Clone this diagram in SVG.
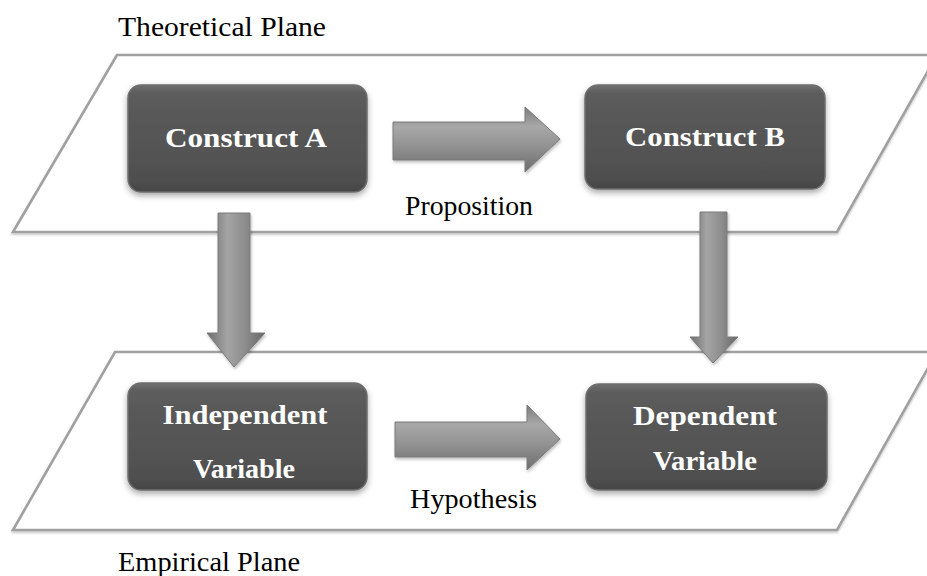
<svg xmlns="http://www.w3.org/2000/svg" width="927" height="576" viewBox="0 0 927 576">
<style>
.plane{fill:#fff;stroke:#a0a0a0;stroke-width:2.6}
.box{fill:url(#boxg);stroke:#6e6e6e;stroke-width:1.5}
.bt{font-family:"Liberation Serif","Times New Roman",serif;font-weight:bold;font-size:28px;fill:#fff;text-anchor:middle}
.lab{font-family:"Liberation Serif","Times New Roman",serif;font-size:28px;fill:#000}
.arr{stroke:#7a7a7a;stroke-width:1}
</style>
<defs>
<linearGradient id="boxg" x1="0" y1="0" x2="0" y2="1">
<stop offset="0" stop-color="#707070"/>
<stop offset="0.08" stop-color="#5c5c5c"/>
<stop offset="0.9" stop-color="#4f4f4f"/>
<stop offset="1" stop-color="#444"/>
</linearGradient>
<linearGradient id="hg" x1="0" y1="0" x2="0" y2="1">
<stop offset="0" stop-color="#7c7c7c"/>
<stop offset="0.3" stop-color="#a8a8a8"/>
<stop offset="0.6" stop-color="#929292"/>
<stop offset="1" stop-color="#6e6e6e"/>
</linearGradient>
<linearGradient id="vg" x1="0" y1="0" x2="1" y2="0">
<stop offset="0" stop-color="#6e6e6e"/>
<stop offset="0.35" stop-color="#a4a4a4"/>
<stop offset="0.65" stop-color="#8e8e8e"/>
<stop offset="1" stop-color="#666"/>
</linearGradient>
<filter id="sh" x="-10%" y="-10%" width="120%" height="130%">
<feDropShadow dx="0" dy="3" stdDeviation="3" flood-color="#000" flood-opacity="0.35"/>
</filter>
<filter id="ash" x="-10%" y="-10%" width="130%" height="130%">
<feDropShadow dx="1" dy="2" stdDeviation="1.5" flood-color="#000" flood-opacity="0.25"/>
</filter>
<filter id="psh" x="-5%" y="-5%" width="110%" height="115%">
<feDropShadow dx="0" dy="1.5" stdDeviation="1" flood-color="#000" flood-opacity="0.25"/>
</filter>
</defs>

<g id="theoretical-plane">
<polygon class="plane" filter="url(#psh)" points="117,55 937,55 837,232 13,232"/>
<text class="lab" x="118" y="36" textLength="208" lengthAdjust="spacingAndGlyphs">Theoretical  Plane</text>
</g>
<g id="empirical-plane">
<polygon class="plane" filter="url(#psh)" points="115,352 937,352 837,530 13,530"/>
<text class="lab" x="118" y="571" textLength="182" lengthAdjust="spacingAndGlyphs">Empirical Plane</text>
</g>

<g id="connectors">
<g id="proposition">
<path class="arr" fill="url(#hg)" filter="url(#ash)" d="M393,122 H525 V107 L560,139 L525,172 V160 H393 Z"/>
<text class="lab" x="405" y="215" textLength="128" lengthAdjust="spacingAndGlyphs">Proposition</text>
</g>
<g id="hypothesis">
<path class="arr" fill="url(#hg)" filter="url(#ash)" d="M395,422 H527 V405 L560,439 L527,470 V457 H395 Z"/>
<text class="lab" x="410" y="508" textLength="127" lengthAdjust="spacingAndGlyphs">Hypothesis</text>
</g>
<path id="a-to-iv" class="arr" fill="url(#vg)" filter="url(#ash)" d="M218,213 H250 V333 H265 L234,367 L207,333 H218 Z"/>
<path id="b-to-dv" class="arr" fill="url(#vg)" filter="url(#ash)" d="M700,212 H727 V337 H738 L713,363 L690,337 H700 Z"/>
</g>

<g id="construct-a">
<rect class="box" filter="url(#sh)" x="128" y="85" width="239" height="107" rx="13"/>
<text class="bt" x="246" y="147" textLength="162" lengthAdjust="spacingAndGlyphs">Construct  A</text>
</g>
<g id="construct-b">
<rect class="box" filter="url(#sh)" x="585" y="85" width="240" height="104" rx="13"/>
<text class="bt" x="705" y="146" textLength="160" lengthAdjust="spacingAndGlyphs">Construct  B</text>
</g>
<g id="independent-variable">
<rect class="box" filter="url(#sh)" x="128" y="383" width="239" height="107" rx="13"/>
<text class="bt" x="245" y="424" textLength="165" lengthAdjust="spacingAndGlyphs">Independent</text>
<text class="bt" x="244" y="478" textLength="102" lengthAdjust="spacingAndGlyphs">Variable</text>
</g>
<g id="dependent-variable">
<rect class="box" filter="url(#sh)" x="586" y="384" width="241" height="106" rx="13"/>
<text class="bt" x="705" y="425" textLength="144" lengthAdjust="spacingAndGlyphs">Dependent</text>
<text class="bt" x="705" y="470" textLength="104" lengthAdjust="spacingAndGlyphs">Variable</text>
</g>
</svg>
